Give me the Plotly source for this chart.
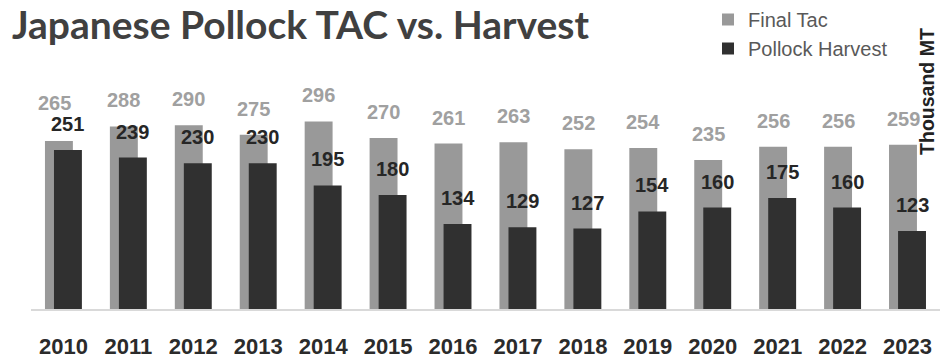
import plotly.graph_objects as go

# Japanese walleye pollock: final TAC vs. actual harvest (thousand metric tons)
years = ["2010", "2011", "2012", "2013", "2014", "2015", "2016",
         "2017", "2018", "2019", "2020", "2021", "2022", "2023"]
final_tac = [265, 288, 290, 275, 296, 270, 261, 263, 252, 254, 235, 256, 256, 259]
harvest = [251, 239, 230, 230, 195, 180, 134, 129, 127, 154, 160, 175, 160, 123]

TAC_COLOR = "#999999"
HARVEST_COLOR = "#303030"
TAC_LABEL_COLOR = "#a0a0a0"
HARVEST_LABEL_COLOR = "#262626"
FONT = "Liberation Sans, Arial, sans-serif"

BAR_W = 0.43
TAC_OFFSET = -0.285
HARVEST_OFFSET = -0.146

W, H = 940, 359
M_L, M_R, M_T, M_B = 31, 0, 40, 46
PLOT_W = W - M_L - M_R
PLOT_H = H - M_T - M_B

fig = go.Figure()
fig.add_trace(go.Bar(
    x=years, y=final_tac, name="Final Tac",
    marker=dict(color=TAC_COLOR, line=dict(width=0)),
    width=BAR_W, offset=TAC_OFFSET,
))
fig.add_trace(go.Bar(
    x=years, y=harvest, name="Pollock Harvest",
    marker=dict(color=HARVEST_COLOR, line=dict(width=0)),
    width=BAR_W, offset=HARVEST_OFFSET,
))

# value labels above each bar (x given as category index)
annotations = []
for i, (t, h) in enumerate(zip(final_tac, harvest)):
    # the first TAC label is nudged up-left to clear the harvest label
    dx, dy = (-9, 38) if i == 0 else (-4.5, 26)
    annotations.append(dict(
        x=i, y=t, text=str(t), showarrow=False,
        xanchor="center", yanchor="middle", xshift=dx, yshift=dy,
        font=dict(family=FONT, size=20, color=TAC_LABEL_COLOR, weight="bold"),
    ))
    annotations.append(dict(
        x=i, y=h, text=str(h), showarrow=False,
        xanchor="center", yanchor="middle", xshift=4.5, yshift=26,
        font=dict(family=FONT, size=20, color=HARVEST_LABEL_COLOR, weight="bold"),
    ))

# vertical unit label on the right edge
annotations.append(dict(
    xref="paper", yref="paper", x=1, y=(H - M_B - 91) / PLOT_H,
    text="Thousand MT", textangle=-90, showarrow=False,
    xanchor="right", yanchor="middle", xshift=0,
    font=dict(family=FONT, size=19.5, color="#222222", weight="bold"),
))

fig.update_layout(
    width=W, height=H,
    margin=dict(l=M_L, r=M_R, t=M_T, b=M_B),
    paper_bgcolor="white", plot_bgcolor="white",
    barmode="overlay",
    title=dict(
        text="Japanese Pollock TAC vs. Harvest",
        xref="container", yref="container",
        x=12 / W, xanchor="left", y=1 - 12 / H, yanchor="top",
        font=dict(family="Lato, sans-serif",
                  size=39, color="#404040", weight="bold"),
    ),
    legend=dict(
        orientation="v", xref="paper", yref="paper",
        x=(708 - M_L) / PLOT_W, xanchor="left",
        y=(H - M_B + 3) / PLOT_H, yanchor="top",
        font=dict(family=FONT, size=20, color="#595959"),
        bgcolor="rgba(0,0,0,0)", tracegroupgap=0, itemwidth=30,
    ),
    xaxis=dict(
        type="category", range=[-0.5, len(years) - 0.5],
        showgrid=False, ticks="",
        showline=True, linecolor="#d9d9d9", linewidth=2,
        tickfont=dict(family=FONT, size=22, color="#2b2b2b", weight="bold"),
        ticklabelstandoff=17,
    ),
    yaxis=dict(range=[0, PLOT_H / 0.648], visible=False, showgrid=False),
    annotations=annotations,
    showlegend=True,
)

fig.write_html("out.html")
